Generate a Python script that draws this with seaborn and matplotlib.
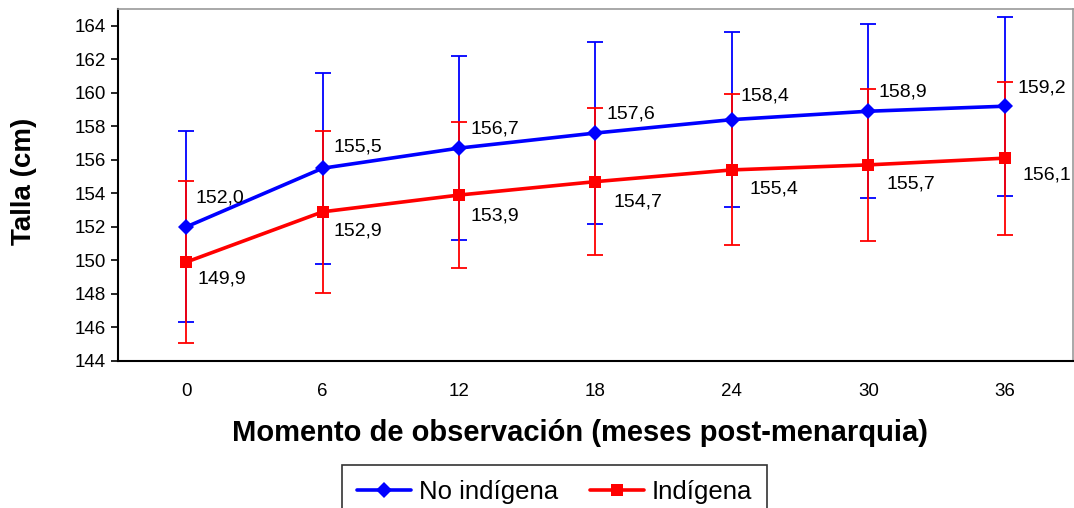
import matplotlib
matplotlib.use("Agg")
import matplotlib.pyplot as plt
import seaborn as sns
import pandas as pd
import numpy as np

# ---- data ----
months = ["0", "6", "12", "18", "24", "30", "36"]
no_indigena = [152.0, 155.5, 156.7, 157.6, 158.4, 158.9, 159.2]
indigena = [149.9, 152.9, 153.9, 154.7, 155.4, 155.7, 156.1]
no_indigena_sd = [5.7, 5.7, 5.5, 5.45, 5.2, 5.2, 5.35]
indigena_sd = [4.85, 4.83, 4.38, 4.4, 4.5, 4.55, 4.57]
series_names = ["No indígena", "Indígena"]
labels_no = ["152,0", "155,5", "156,7", "157,6", "158,4", "158,9", "159,2"]
labels_ind = ["149,9", "152,9", "153,9", "154,7", "155,4", "155,7", "156,1"]

df = pd.DataFrame({
    "mes": months * 2,
    "talla": no_indigena + indigena,
    "grupo": [series_names[0]] * len(months) + [series_names[1]] * len(months),
})
pos = {m: i for i, m in enumerate(months)}
df["x"] = df["mes"].map(pos)

sns.set_theme(style="white")
plt.rcParams["font.family"] = ["Liberation Sans", "DejaVu Sans"]
plt.rcParams["text.color"] = "black"
plt.rcParams["axes.labelcolor"] = "black"
plt.rcParams["xtick.color"] = "black"
plt.rcParams["ytick.color"] = "black"

fig = plt.figure(figsize=(10.74, 5.08), dpi=100)
ax = fig.add_axes([0.1099, 0.2894, 0.8891, 0.6929])

colors = {series_names[0]: "#0000FF", series_names[1]: "#FF0000"}

# error bars
xs = np.arange(len(months))
ax.errorbar(xs, no_indigena, yerr=no_indigena_sd, fmt="none", ecolor="#0000FF",
            elinewidth=1.3, capsize=6, capthick=1.3, zorder=2)
ax.errorbar(xs, indigena, yerr=indigena_sd, fmt="none", ecolor="#FF0000",
            elinewidth=1.3, capsize=6, capthick=1.3, zorder=2.5)

sns.lineplot(data=df, x="x", y="talla", hue="grupo", style="grupo",
             markers={series_names[0]: "D", series_names[1]: "s"},
             dashes=False, palette=colors, linewidth=2.6, markersize=8,
             markeredgewidth=0, ax=ax, zorder=3, legend=True)

# annotations (offsets in points)
off_no = [(7, 21), (8, 15), (8, 14), (8, 14), (6, 17), (7, 14), (9, 13)]
off_ind = [(8, -12), (8, -14), (8, -15), (13, -15), (13, -14), (13, -14), (13, -12)]
for i in range(len(months)):
    ax.annotate(labels_no[i], (xs[i], no_indigena[i]), xytext=off_no[i],
                textcoords="offset points", ha="left", va="center", fontsize=14,
                color="black", zorder=5)
    ax.annotate(labels_ind[i], (xs[i], indigena[i]), xytext=off_ind[i],
                textcoords="offset points", ha="left", va="center", fontsize=14,
                color="black", zorder=5)

ax.set_xlim(-0.5, 6.5)
ax.set_ylim(144, 165)
ax.set_yticks(np.arange(144, 165, 2))
ax.set_xticks(xs)
ax.set_xticklabels(months)
ax.tick_params(axis="x", labelsize=13.5, length=0, pad=16)
ax.tick_params(axis="y", labelsize=13.5, length=5, width=1.2, direction="out", left=True, pad=4)

for s in ["left", "bottom"]:
    ax.spines[s].set_color("black")
    ax.spines[s].set_linewidth(1.5)
for s in ["top", "right"]:
    ax.spines[s].set_color("#999999")
    ax.spines[s].set_linewidth(1.2)

ax.set_xlabel("Momento de observación (meses post-menarquia)", fontsize=21,
              fontweight="bold")
ax.set_ylabel("Talla (cm)", fontsize=20, fontweight="bold")
ax.xaxis.set_label_coords(0.484, -0.165)
ax.yaxis.set_label_coords(-0.085, 0.51)

handles, lbls = ax.get_legend_handles_labels()
leg = ax.legend(handles, lbls, loc="upper center", bbox_to_anchor=(0.457, -0.295),
                ncol=2, frameon=True, fancybox=False, fontsize=18.5,
                edgecolor="black", handlelength=2.1, columnspacing=1.25,
                borderpad=0.6, handletextpad=0.3, borderaxespad=0)
leg.get_frame().set_linewidth(1.2)

fig.savefig("out.png", dpi=100)
